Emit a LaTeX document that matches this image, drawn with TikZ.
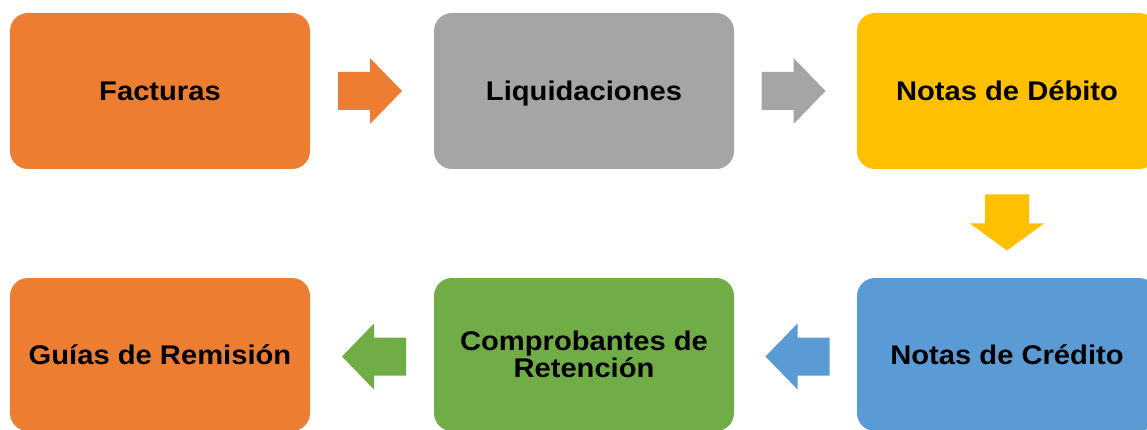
\documentclass[tikz,border=0pt]{standalone}
\usepackage{fontspec}
\setmainfont{Liberation Sans}[FakeStretch=1.08]
\usetikzlibrary{calc}
\definecolor{corange}{HTML}{ED7D31}
\definecolor{cgray}{HTML}{A5A5A5}
\definecolor{cyellow}{HTML}{FFC000}
\definecolor{cblue}{HTML}{5B9BD5}
\definecolor{cgreen}{HTML}{70AD47}
\begin{document}
\begin{tikzpicture}[x=1pt,y=-1pt,
  box/.style={rounded corners=18pt, minimum width=300pt, minimum height=156pt, inner sep=0pt,
    font=\bfseries\fontsize{27}{27}\selectfont, text=black, align=center},
  one/.style={text height=19pt, text depth=0pt},
  low/.style={minimum height=153pt},
  harrow/.pic={\fill (-32,-19) -- (0,-19) -- (0,-33) -- (32,0) -- (0,33) -- (0,19) -- (-32,19) -- cycle;},
  varrow/.pic={\fill (-22,-28) -- (22,-28) -- (22,1) -- (37,1) -- (0,28) -- (-37,1) -- (-22,1) -- cycle;}]
\useasboundingbox (0,0) rectangle (1147,430);
\node[box,one,fill=corange] (fact) at (160,91) {Facturas};
\node[box,one,fill=cgray] (liq) at (584,91) {Liquidaciones};
\node[box,one,fill=cyellow] (deb) at (1007,91) {Notas de Débito};
\node[box,one,low,fill=cblue] (cred) at (1007,354.5) {Notas de Crédito};
\node[box,low,fill=cgreen] (ret) at (584,354.5) {Comprobantes de\\Retención};
\node[box,one,low,fill=corange] (guia) at (160,354.5) {Guías de Remisión};
\pic[fill=corange] at ($(fact.east)!0.5!(liq.west)+(-2,0)$) {harrow};
\pic[fill=cgray] at ($(liq.east)!0.5!(deb.west)+(-2,0)$) {harrow};
\pic[fill=cyellow] at ($(deb.south)!0.5!(cred.north)+(0,-1)$) {varrow};
\pic[fill=cblue, rotate=180] at ($(cred.west)!0.5!(ret.east)+(2,2)$) {harrow};
\pic[fill=cgreen, rotate=180] at ($(ret.west)!0.5!(guia.east)+(2,2)$) {harrow};
\end{tikzpicture}
\end{document}
